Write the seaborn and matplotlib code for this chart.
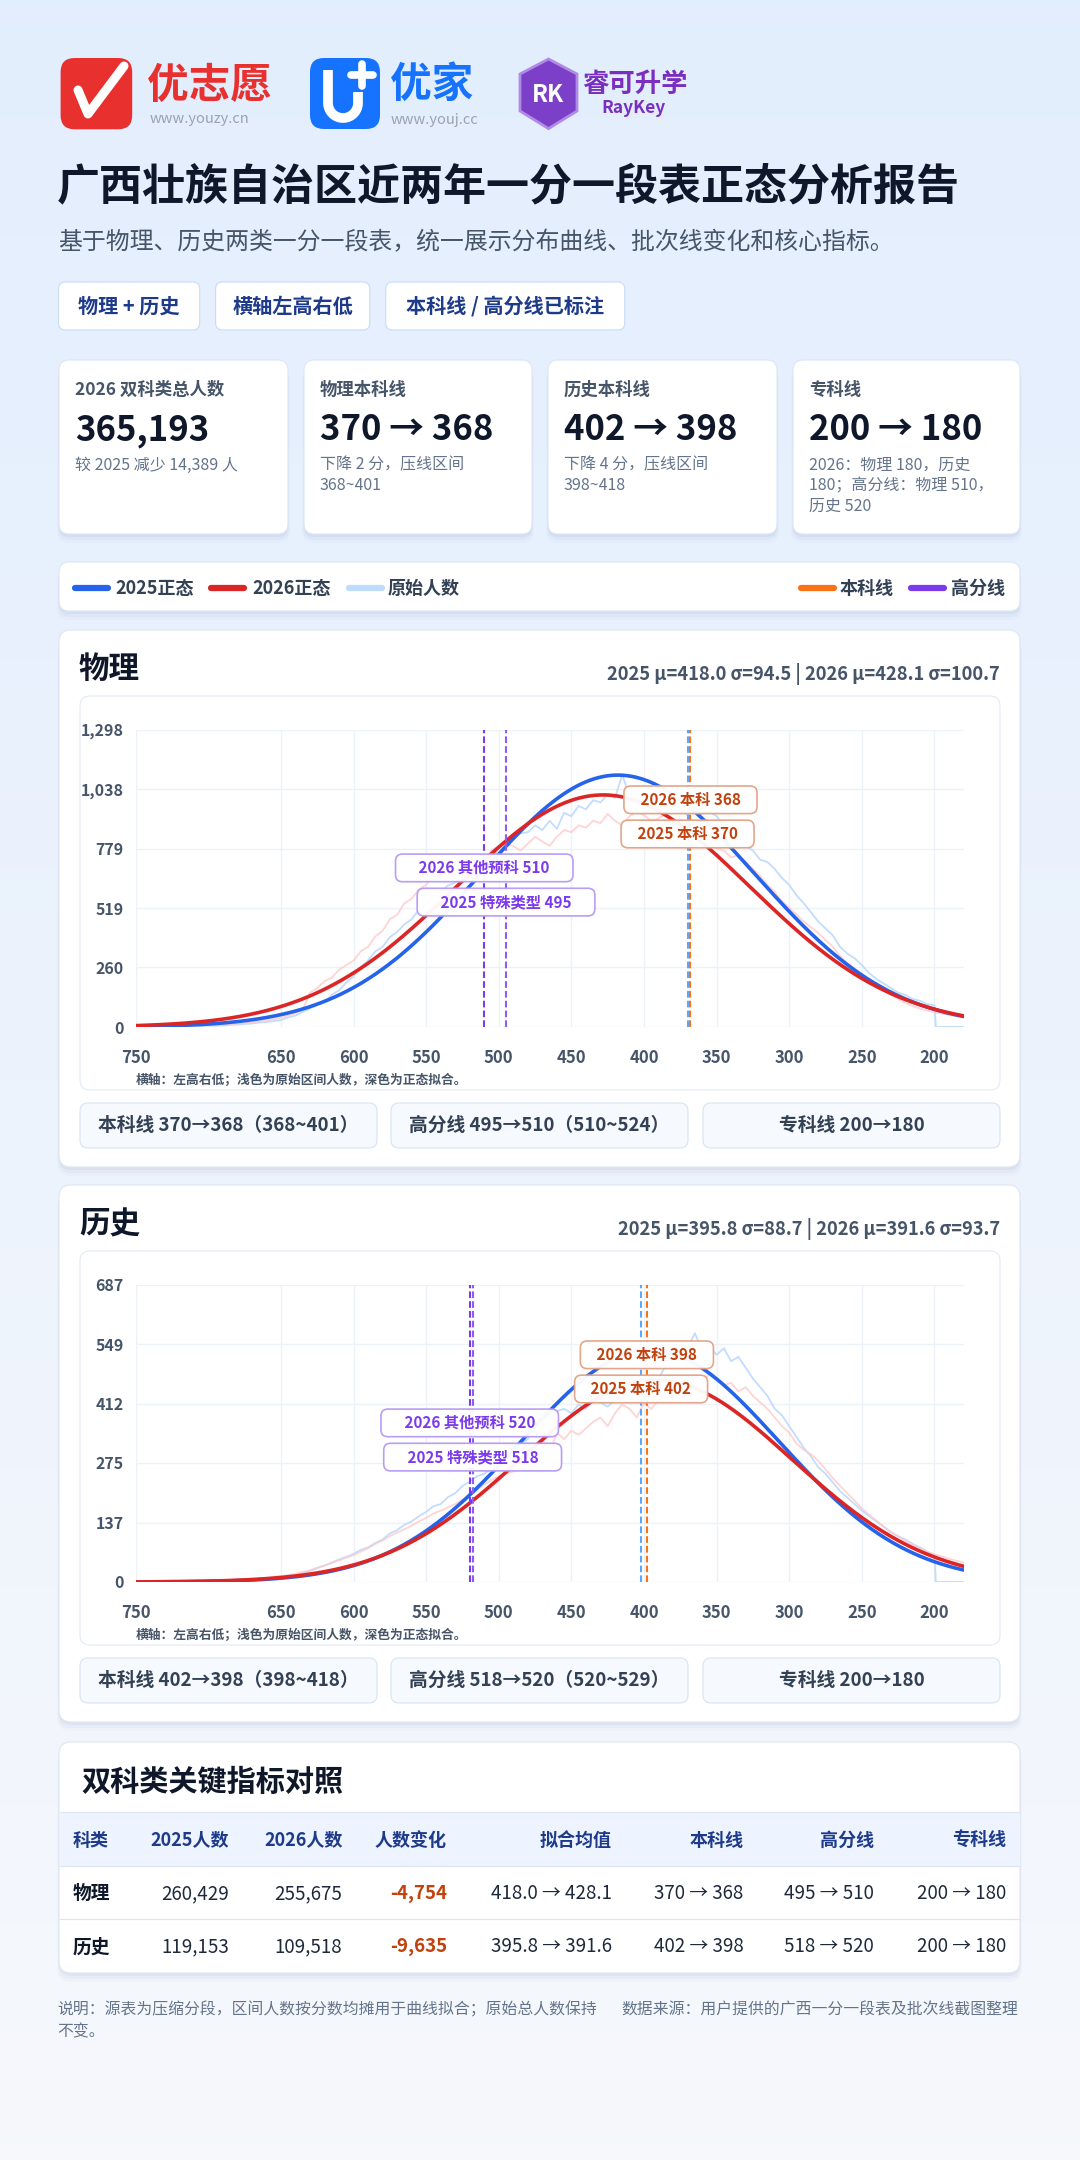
import numpy as np
import pandas as pd
import matplotlib
matplotlib.use("Agg")
import matplotlib.pyplot as plt
import seaborn as sns
from matplotlib.patches import FancyBboxPatch, Polygon

# ---------------- data ----------------
title = "广西壮族自治区近两年一分一段表正态分析报告"
subtitle = "基于物理、历史两类一分一段表，统一展示分布曲线、批次线变化和核心指标。"
tags = ["物理 + 历史", "横轴左高右低", "本科线 / 高分线已标注"]

kpi_titles = ["2026 双科类总人数", "物理本科线", "历史本科线", "专科线"]
kpi_values = ["365,193", "370 → 368", "402 → 398", "200 → 180"]
kpi_notes = [
    ["较 2025 减少 14,389 人"],
    ["下降 2 分，压线区间", "368~401"],
    ["下降 4 分，压线区间", "398~418"],
    ["2026：物理 180，历史", "180；高分线：物理 510，", "历史 520"],
]

legend_left = ["2025正态", "2026正态", "原始人数"]
legend_right = ["本科线", "高分线"]

x_ticks = [750, 650, 600, 550, 500, 450, 400, 350, 300, 250, 200]
phys_yticks = [0, 260, 519, 779, 1038, 1298]
hist_yticks = [0, 137, 275, 412, 549, 687]

# raw (light) series, every 5 points
raw_scores_2025 = list(range(750, 199, -5)) + [199, 180]
raw_scores_2026 = list(range(750, 179, -5))

phys_raw_2025 = [0, 1, 2, 2, 3, 3, 4, 5, 5, 4,
                 5, 6, 7, 9, 10, 13, 15, 19, 22, 26,
                 30, 42, 50, 66, 80, 98, 110, 140, 160, 195,
                 220, 262, 290, 330, 350, 392, 415, 448, 470, 512,
                 535, 570, 590, 618, 630, 664, 670, 705, 720, 770,
                 790, 800, 820, 845, 850, 880, 860, 900, 865, 935,
                 920, 965, 950, 990, 980, 1015, 1000, 1100, 1010, 1030,
                 990, 985, 960, 970, 940, 950, 925, 945, 930, 940,
                 920, 880, 860, 835, 790, 770, 730, 720, 690, 650,
                 620, 575, 540, 500, 460, 430, 400, 350, 320, 300,
                 270, 235, 210, 190, 170, 150, 140, 122, 115, 100,
                 95, 0, 0]
phys_raw_2026 = [0, 1, 1, 2, 2, 3, 4, 5, 6, 7,
                 8, 9, 10, 12, 14, 17, 20, 24, 28, 34,
                 40, 50, 60, 75, 150, 170, 200, 215, 250, 270,
                 290, 330, 350, 395, 420, 470, 490, 540, 560, 600,
                 620, 660, 650, 690, 680, 720, 700, 740, 730, 770,
                 760, 800, 790, 770, 800, 830, 810, 790, 830, 860,
                 850, 880, 870, 900, 890, 930, 900, 880, 920, 940,
                 925, 900, 910, 930, 895, 905, 880, 860, 830, 800,
                 780, 770, 740, 750, 720, 690, 660, 620, 590, 550,
                 520, 490, 460, 435, 410, 380, 350, 310, 280, 255,
                 230, 205, 180, 160, 140, 122, 105, 92, 80, 72,
                 65, 58, 52, 47, 42]
hist_raw_2025 = [0, 0, 0, 1, 1, 1, 1, 2, 2, 2,
                 2, 3, 3, 4, 4, 5, 6, 7, 8, 10,
                 11, 14, 16, 21, 25, 32, 38, 45, 52, 58,
                 65, 74, 80, 90, 98, 112, 120, 132, 140, 152,
                 162, 175, 180, 196, 205, 222, 232, 244, 250, 262,
                 265, 290, 300, 318, 330, 370, 385, 380, 395, 400,
                 390, 410, 400, 420, 415, 405, 420, 440, 425, 415,
                 430, 455, 470, 500, 520, 510, 540, 575, 535, 545,
                 525, 540, 510, 520, 495, 470, 450, 430, 400, 385,
                 360, 335, 310, 290, 265, 250, 230, 210, 195, 180,
                 165, 152, 140, 128, 115, 106, 98, 88, 80, 70,
                 62, 0, 0]
hist_raw_2026 = [0, 0, 0, 1, 1, 1, 1, 2, 2, 2,
                 3, 3, 4, 4, 5, 6, 7, 8, 10, 12,
                 14, 16, 19, 23, 27, 33, 38, 44, 50, 56,
                 62, 70, 78, 88, 96, 106, 114, 122, 130, 140,
                 148, 158, 165, 172, 180, 190, 200, 212, 225, 236,
                 244, 250, 255, 262, 260, 300, 330, 300, 345, 330,
                 350, 340, 355, 370, 380, 360, 390, 410, 400, 380,
                 413, 400, 420, 440, 425, 430, 440, 470, 465, 480,
                 470, 455, 460, 440, 450, 430, 415, 400, 380, 360,
                 345, 320, 305, 295, 280, 260, 240, 222, 205, 188,
                 170, 155, 142, 128, 115, 105, 95, 86, 78, 70,
                 64, 59, 54, 49, 45]

# normal fits (2025, 2026)
phys_mu = [418.0, 428.1]
phys_sigma = [94.5, 100.7]
phys_n = [260429, 255675]
hist_mu = [395.8, 391.6]
hist_sigma = [88.7, 93.7]
hist_n = [119153, 109518]

cut_names = ["2026 本科", "2025 本科", "2026 其他预科", "2025 特殊类型"]
phys_cuts = [368, 370, 510, 495]
hist_cuts = [398, 402, 520, 518]

phys_pills = ["本科线 370→368（368~401）", "高分线 495→510（510~524）", "专科线 200→180"]
hist_pills = ["本科线 402→398（398~418）", "高分线 518→520（520~529）", "专科线 200→180"]

table_cols = ["科类", "2025人数", "2026人数", "人数变化", "拟合均值", "本科线", "高分线", "专科线"]
table_rows = [
    ["物理", "260,429", "255,675", "-4,754", "418.0 → 428.1", "370 → 368", "495 → 510", "200 → 180"],
    ["历史", "119,153", "109,518", "-9,635", "395.8 → 391.6", "402 → 398", "518 → 520", "200 → 180"],
]
note_left = ["说明：源表为压缩分段，区间人数按分数均摊用于曲线拟合；原始总人数保持", "不变。"]
note_right = "数据来源：用户提供的广西一分一段表及批次线截图整理"

# ---------------- style ----------------
sns.set_theme(style="white")
plt.rcParams["font.family"] = ["Noto Sans CJK SC", "DejaVu Sans"]
plt.rcParams["axes.unicode_minus"] = False

BLUE, RED = "#2563eb", "#dc2626"
LBLUE, LRED = "#bfdbfe", "#fecaca"
ORANGE, PURPLE = "#f97316", "#7c3aed"
DARK, SLATE, GREY = "#0f172a", "#475569", "#64748b"

W, H = 1080, 2160
fig = plt.figure(figsize=(W / 100, H / 100), dpi=100)
bg = fig.add_axes([0, 0, 1, 1])
top_c = np.array([0.890, 0.933, 0.995])
bot_c = np.array([0.965, 0.973, 0.988])
t = np.linspace(0, 1, 256)[:, None, None]
grad = top_c * (1 - t) + bot_c * t
bg.imshow(np.repeat(grad, 2, axis=1), extent=[0, W, H, 0], aspect="auto", zorder=0)
bg.set_xlim(0, W)
bg.set_ylim(H, 0)
bg.axis("off")


def txt(x, y, s, size, color=DARK, weight="normal", ha="left", va="center", **kw):
    bg.text(x, y, s, fontsize=size, color=color, fontweight=weight, ha=ha, va=va, zorder=5, **kw)


def rbox(x0, y0, x1, y1, fc="white", ec="#dbe5f3", r=10, lw=0.8, z=1, shadow=False):
    if shadow:
        for i, a in enumerate([0.045, 0.03, 0.018]):
            d = 3 + i * 3
            bg.add_patch(FancyBboxPatch((x0 - i, y0 + d), x1 - x0 + 2 * i, y1 - y0,
                                        boxstyle=f"round,pad=0,rounding_size={r + i}",
                                        fc="#1e3a8a", ec="none", alpha=a, zorder=z - 0.1))
    bg.add_patch(FancyBboxPatch((x0, y0), x1 - x0, y1 - y0,
                                boxstyle=f"round,pad=0,rounding_size={r}",
                                fc=fc, ec=ec, lw=lw, zorder=z))


# ---------------- logos ----------------
rbox(60.6, 58, 132.2, 129.3, fc="#e8312f", ec="none", r=14, z=2)
bg.plot([78, 88, 124], [90, 114, 66], color="white", lw=6.5, solid_capstyle="round",
        solid_joinstyle="round", zorder=3)
txt(147, 86, "优志愿", 30, color="#e8312f", weight="bold")
txt(150, 119, "www.youzy.cn", 10.5, color="#9aa3ae")

rbox(310, 58, 380, 129, fc="#1673ff", ec="none", r=14, z=2)
ang = np.linspace(0, np.pi, 30)
ux = np.concatenate([[328, 328], 343 - 15 * np.cos(ang), [358]])
uy = np.concatenate([[70, 103], 103 + 15 * np.sin(ang), [92]])
bg.plot(ux, uy, color="white", lw=7, solid_capstyle="butt", zorder=3)
bg.plot([362, 362], [64, 86], color="white", lw=5.5, zorder=3)
bg.plot([351, 373], [75, 75], color="white", lw=5.5, zorder=3)
txt(390, 85, "优家", 30, color="#1673ff", weight="bold")
txt(391, 120, "www.youj.cc", 10.5, color="#9aa3ae")

bg.add_patch(Polygon([(548.5, 59), (577, 74), (577, 111), (548.5, 128.6), (520, 111), (520, 74)],
                     closed=True, fc="#7b3fc8", ec="#b08be6", lw=2, zorder=2))
txt(548.5, 95, "RK", 17, color="white", weight="bold", ha="center", style="italic")
txt(582, 84, "睿可升学", 19, color="#7a2fbe", weight="bold")
txt(601, 108, "RayKey", 12.5, color="#7a2fbe", weight="bold", style="italic")

# ---------------- heading ----------------
txt(57, 186, title, 31, weight="bold")
txt(58, 243, subtitle, 17.2, color=SLATE)

tag_x = [(58.5, 199.7), (215.6, 369.8), (385.7, 624.7)]
for (x0, x1), s in zip(tag_x, tags):
    rbox(x0, 282, x1, 330, ec="#c7dcf7", r=7, z=2)
    txt((x0 + x1) / 2, 306, s, 14.5, color="#1e3a8a", weight="bold", ha="center")

card_x = [(59, 288), (304, 532), (548, 777), (793, 1020)]
for (x0, x1), ttl, val, notes in zip(card_x, kpi_titles, kpi_values, kpi_notes):
    rbox(x0, 360, x1, 534, ec="#dde6f3", r=10, z=2, shadow=True)
    txt(x0 + 16, 390, ttl, 12.5, color=SLATE, weight="bold")
    txt(x0 + 16, 430, val, 25, weight="bold")
    for i, n in enumerate(notes):
        txt(x0 + 16, 465 + i * 20.5, n, 11.5, color=GREY)

# ---------------- legend bar ----------------
rbox(59, 562, 1020, 611, ec="#dbe5f3", r=10, z=2, shadow=True)
for (lx, tx), s, c in zip([(75, 115), (211, 252), (349, 388)], legend_left, [BLUE, RED, LBLUE]):
    bg.plot([lx, lx + 33], [588, 588], color=c, lw=4.5, solid_capstyle="round", zorder=3)
    txt(tx, 588, s, 13, color="#334155", weight="bold")
for (lx, tx), s, c in zip([(801, 840), (911, 951)], legend_right, [ORANGE, PURPLE]):
    bg.plot([lx, lx + 33], [588, 588], color=c, lw=4.5, solid_capstyle="round", zorder=3)
    txt(tx, 588, s, 13, color="#334155", weight="bold")


# ---------------- chart panels ----------------
def normal_curve(mu, sigma, n, grid):
    return n / (sigma * np.sqrt(2 * np.pi)) * np.exp(-0.5 * ((grid - mu) / sigma) ** 2)


def draw_panel(off, name, mus, sigmas, ns, raw25, raw26, yticks, cuts, pills):
    rbox(59, 630 + off, 1020, 1167 + off, ec="#dde6f3", r=12, z=2, shadow=True)
    txt(79, 669 + off, name, 22, weight="bold")
    stats = (f"2025 μ={mus[0]:.1f} σ={sigmas[0]:.1f} | "
             f"2026 μ={mus[1]:.1f} σ={sigmas[1]:.1f}")
    txt(1000, 674 + off, stats, 13.2, color=SLATE, weight="bold", ha="right")
    rbox(80, 696 + off, 1000, 1090 + off, ec="#e3eaf5", r=10, z=3)
    txt(136, 1080 + off, "横轴：左高右低；浅色为原始区间人数，深色为正态拟合。", 9.2,
        color=SLATE, weight="bold")

    top, bot = 729.6 + off, 1027 + off
    ax = fig.add_axes([135.7 / W, 1 - bot / H, (963.5 - 135.7) / W, (bot - top) / H])
    ax.set_facecolor("none")

    raw = pd.DataFrame({
        "score": raw_scores_2025 + raw_scores_2026,
        "count": raw25 + raw26,
        "year": ["2025"] * len(raw25) + ["2026"] * len(raw26),
    })
    sns.lineplot(data=raw[raw.year == "2025"], x="score", y="count", ax=ax, color=LBLUE,
                 lw=1.3, sort=False, estimator=None, alpha=0.95, zorder=2)
    sns.lineplot(data=raw[raw.year == "2026"], x="score", y="count", ax=ax, color=LRED,
                 lw=1.3, sort=False, estimator=None, alpha=0.8, zorder=2)

    grid = np.linspace(180, 750, 600)
    for mu, sg, n, c in zip(mus, sigmas, ns, [BLUE, RED]):
        fit = pd.DataFrame({"score": grid, "count": normal_curve(mu, sg, n, grid)})
        sns.lineplot(data=fit, x="score", y="count", ax=ax, color=c, lw=2.6,
                     sort=False, estimator=None, zorder=3)

    line_colors = [ORANGE, "#60a5fa", PURPLE, "#8b5cf6"]
    for s, c in zip(cuts, line_colors):
        ax.axvline(s, color=c, lw=1.5, ls=(0, (3.2, 1.5)), zorder=4)

    ymax = yticks[-1]
    fracs = [0.764, 0.649, 0.535, 0.42]
    for i, (nm, s) in enumerate(zip(cut_names, cuts)):
        if i < 2:
            tc, ec, padd = "#c2410c", "#e3a285", "   "
        else:
            tc, ec, padd = PURPLE, "#b69af5", "     "
        ax.text(s, fracs[i] * ymax, f"{padd}{nm} {s}{padd}", ha="center", va="center",
                fontsize=11, fontweight="bold", color=tc, zorder=6,
                bbox=dict(boxstyle="round,pad=0.38,rounding_size=0.45", fc="white",
                          ec=ec, lw=1.2, alpha=0.96))

    ax.set_xlim(750, 180)
    ax.set_ylim(0, ymax)
    ax.set_xticks(x_ticks)
    ax.set_xticklabels([str(v) for v in x_ticks])
    ax.set_yticks(yticks)
    ax.set_yticklabels([f"{v:,}" for v in yticks])
    ax.tick_params(axis="x", length=0, pad=16, labelsize=12, labelcolor=SLATE)
    ax.tick_params(axis="y", length=0, pad=8.5, labelsize=11.5, labelcolor=SLATE)
    for lbl in ax.get_xticklabels() + ax.get_yticklabels():
        lbl.set_fontweight("bold")
    ax.grid(True, color="#edf1f8", lw=1)
    ax.set_axisbelow(True)
    for sp in ax.spines.values():
        sp.set_visible(False)
    ax.set_xlabel("")
    ax.set_ylabel("")

    for (x0, x1), s in zip([(80, 377), (391, 688), (703, 1000)], pills):
        rbox(x0, 1103 + off, x1, 1148 + off, fc="#f6f9fe", ec="#d8e3f3", r=8, z=3)
        txt((x0 + x1) / 2, 1125.5 + off, s, 13.5, color="#334155", weight="bold", ha="center")


draw_panel(0, "物理", phys_mu, phys_sigma, phys_n, phys_raw_2025, phys_raw_2026,
           phys_yticks, phys_cuts, phys_pills)
draw_panel(555, "历史", hist_mu, hist_sigma, hist_n, hist_raw_2025, hist_raw_2026,
           hist_yticks, hist_cuts, hist_pills)

# ---------------- table ----------------
rbox(59, 1742, 1020, 1973, ec="#dde6f3", r=12, z=2, shadow=True)
txt(81, 1782, "双科类关键指标对照", 21, weight="bold")
bg.add_patch(plt.Rectangle((59.5, 1812.3), 960, 53.4, fc="#eef4ff", ec="none", zorder=3))
for yy in [1812.3, 1865.7, 1919.3]:
    bg.plot([59.5, 1019.5], [yy, yy], color="#dde6f3", lw=0.9, zorder=4)

col_right = [228.8, 342.3, 446.9, 612, 743.4, 874.2, 1006.2]
txt(73, 1840, table_cols[0], 13, color="#1e3a8a", weight="bold")
for xr, s in zip(col_right, table_cols[1:]):
    txt(xr, 1840, s, 13, color="#1e3a8a", weight="bold", ha="right")
for ry, row in zip([1893.3, 1946.7], table_rows):
    txt(73, ry, row[0], 13.5, weight="bold")
    for j, (xr, s) in enumerate(zip(col_right, row[1:])):
        if j == 2:
            txt(xr, ry, s, 13.5, color="#c2410c", weight="bold", ha="right")
        else:
            txt(xr, ry, s, 13.5, color="#1e293b", ha="right")

txt(57, 2010, note_left[0], 11.4, color=GREY)
txt(57, 2032, note_left[1], 11.4, color=GREY)
txt(621, 2010, note_right, 11.4, color=GREY)

fig.savefig("out.png", dpi=100)
